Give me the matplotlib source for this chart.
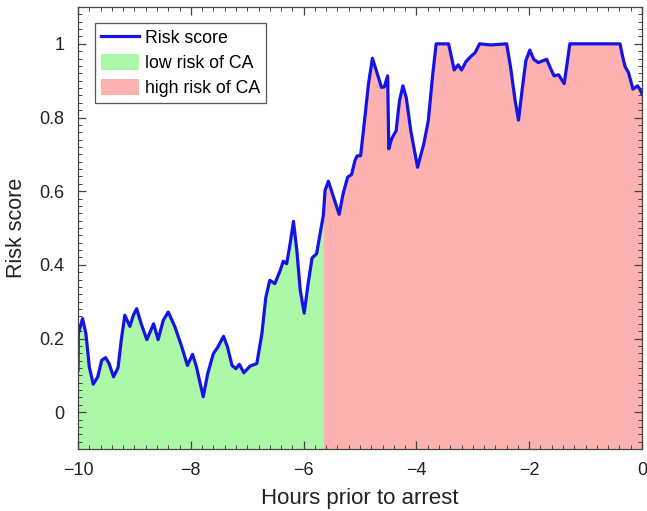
import numpy as np
import matplotlib
matplotlib.use('Agg')
import matplotlib.pyplot as plt
from matplotlib.ticker import MultipleLocator
from matplotlib.patches import Patch
from matplotlib.lines import Line2D

plt.rcParams['font.family'] = ['Liberation Sans', 'DejaVu Sans']

# values
hours = [-10.0, -9.995, -9.92, -9.86, -9.80, -9.73, -9.65, -9.58, -9.51,
         -9.45, -9.37, -9.29, -9.23, -9.17, -9.08, -9.02, -8.96, -8.88,
         -8.78, -8.66, -8.58, -8.49, -8.40, -8.28, -8.16, -8.06, -7.97,
         -7.90, -7.84, -7.78, -7.70, -7.60, -7.52, -7.42, -7.35, -7.27,
         -7.20, -7.14, -7.06, -6.95, -6.83, -6.74, -6.67, -6.60, -6.51,
         -6.42, -6.36, -6.30, -6.24, -6.18, -6.12, -6.06, -5.99, -5.92,
         -5.85, -5.77, -5.69, -5.65, -5.62, -5.56, -5.47, -5.37, -5.30,
         -5.22, -5.15, -5.09, -5.05, -4.99, -4.94, -4.85, -4.78, -4.70,
         -4.62, -4.57, -4.51, -4.49, -4.44, -4.36, -4.30, -4.24, -4.18,
         -4.10, -3.98, -3.87, -3.79, -3.71, -3.65, -3.43, -3.39, -3.33,
         -3.26, -3.20, -3.12, -3.04, -2.96, -2.88, -2.68, -2.40, -2.33,
         -2.25, -2.19, -2.12, -2.06, -1.99, -1.92, -1.84, -1.69, -1.63,
         -1.56, -1.48, -1.38, -1.33, -1.28, -0.39, -0.34, -0.30, -0.24,
         -0.16, -0.08, -0.04, 0.0]
risk = [0.114, 0.213, 0.254, 0.213, 0.123, 0.076, 0.096, 0.141, 0.148,
        0.132, 0.096, 0.121, 0.200, 0.263, 0.233, 0.263, 0.281, 0.240,
        0.197, 0.240, 0.197, 0.249, 0.272, 0.231, 0.177, 0.127, 0.157,
        0.123, 0.082, 0.042, 0.105, 0.159, 0.177, 0.206, 0.177, 0.127,
        0.118, 0.130, 0.107, 0.125, 0.132, 0.213, 0.312, 0.358, 0.349,
        0.383, 0.410, 0.403, 0.457, 0.518, 0.439, 0.331, 0.269, 0.349,
        0.419, 0.430, 0.500, 0.535, 0.602, 0.627, 0.584, 0.537, 0.593,
        0.638, 0.645, 0.683, 0.696, 0.696, 0.764, 0.891, 0.961, 0.922,
        0.882, 0.883, 0.913, 0.715, 0.742, 0.764, 0.846, 0.886, 0.854,
        0.764, 0.665, 0.728, 0.791, 0.918, 1.0, 1.0, 0.972, 0.929,
        0.943, 0.929, 0.952, 0.965, 0.976, 1.0, 0.997, 1.0, 0.936,
        0.846, 0.793, 0.882, 0.954, 0.983, 0.958, 0.949, 0.958, 0.936,
        0.913, 0.916, 0.892, 0.945, 1.0, 1.0, 0.963, 0.938, 0.922,
        0.877, 0.886, 0.877, 0.864]
split_hour = -5.65

x = np.array(hours)
y = np.array(risk)

fig = plt.figure(figsize=(6.47, 5.11), dpi=100)
ax = fig.add_axes([0.1206, 0.1213, 0.8717, 0.865])

green = '#adf8a8'
red = '#fdb1b1'
blue = '#1414e6'
ax.fill_between(x, y, -0.1, where=x <= split_hour, color=green, linewidth=0)
ax.fill_between(x, y, -0.1, where=x >= split_hour, color=red, linewidth=0)
ax.plot(x, y, color=blue, linewidth=2.3, solid_joinstyle='round')

ax.set_xlim(-10, 0)
ax.set_ylim(-0.1, 1.1)
ax.xaxis.set_minor_locator(MultipleLocator(0.2))
ax.yaxis.set_minor_locator(MultipleLocator(0.02))
ax.set_xticks([-10, -8, -6, -4, -2, 0])
ax.set_xticklabels(['\u221210', '\u22128', '\u22126', '\u22124', '\u22122', '0'])
ax.set_yticks([0, 0.2, 0.4, 0.6, 0.8, 1.0])
ax.set_yticklabels(['0', '0.2', '0.4', '0.6', '0.8', '1'])
ax.tick_params(which='both', direction='in', top=True, right=True,
               colors='#444444', labelcolor='#222222', labelsize=13)
ax.tick_params(which='major', length=6, width=0.9)
ax.tick_params(which='minor', length=3, width=0.7)
ax.tick_params(axis='x', pad=9)
ax.tick_params(axis='y', pad=10)
for s in ax.spines.values():
    s.set_color('#444444')
    s.set_linewidth(0.9)

ax.set_xlabel('Hours prior to arrest', fontsize=16, color='#222222', labelpad=7)
ax.set_ylabel('Risk score', fontsize=15.5, color='#222222', labelpad=9)

handles = [Line2D([], [], color=blue, linewidth=2.3),
           Patch(facecolor=green, edgecolor='none'),
           Patch(facecolor=red, edgecolor='none')]
leg = ax.legend(handles, ['Risk score', 'low risk of CA', 'high risk of CA'],
                loc='upper left', bbox_to_anchor=(0.030, 0.964), fontsize=12.8,
                fancybox=False, framealpha=1, edgecolor='#555555',
                handlelength=2.1, handleheight=1.0, borderpad=0.35,
                labelspacing=0.38, handletextpad=0.35, borderaxespad=0)
leg.get_frame().set_linewidth(0.9)

fig.savefig('out.png', dpi=100)
